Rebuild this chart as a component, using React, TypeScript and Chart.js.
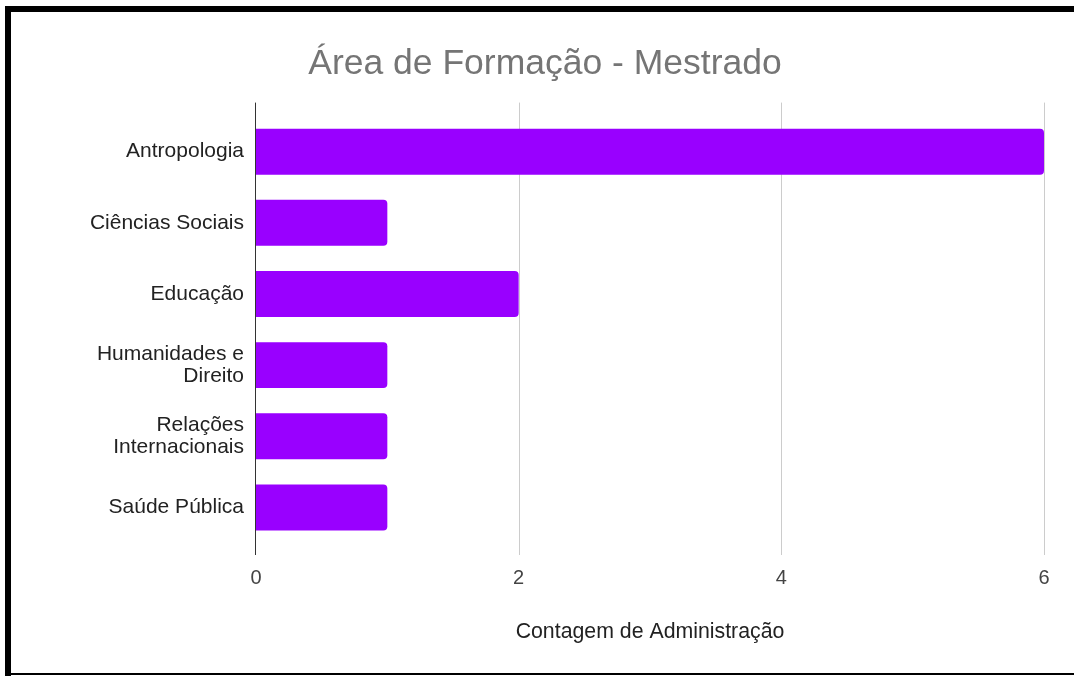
import React, { useEffect, useRef } from "react";
import { Chart, registerables } from "chart.js";

Chart.register(...registerables);

const titleText = "Área de Formação - Mestrado";
const xAxisTitle = "Contagem de Administração";
const categories: (string | string[])[] = [
  "Antropologia",
  "Ciências Sociais",
  "Educação",
  ["Humanidades e", "Direito"],
  ["Relações", "Internacionais"],
  "Saúde Pública",
];
const counts = [6, 1, 2, 1, 1, 1];
const xTicks = [0, 2, 4, 6];

const FONT = "'Liberation Sans', Arial, sans-serif";

const gridExtPlugin = {
  id: "gridExt",
  beforeDatasetsDraw(chart: any) {
    const { ctx, chartArea } = chart;
    const xs = chart.scales.x;
    const top = chartArea.top - 13.5;
    const bottom = chartArea.bottom + 12;
    ctx.save();
    ctx.lineWidth = 1;
    ctx.strokeStyle = "#cccccc";
    xTicks.forEach((v) => {
      if (v === 0) return;
      const px = Math.round(xs.getPixelForValue(v)) + 0.5;
      ctx.beginPath();
      ctx.moveTo(px, top);
      ctx.lineTo(px, bottom);
      ctx.stroke();
    });
    ctx.strokeStyle = "#333333";
    const p0 = Math.round(xs.getPixelForValue(0)) - 0.5;
    ctx.beginPath();
    ctx.moveTo(p0, top);
    ctx.lineTo(p0, bottom);
    ctx.stroke();
    ctx.restore();
  },
};

export default function App() {
  const ref = useRef<HTMLCanvasElement | null>(null);

  useEffect(() => {
    if (!ref.current) return;
    const chart = new Chart(ref.current, {
      type: "bar",
      data: {
        labels: categories,
        datasets: [
          {
            data: counts,
            backgroundColor: "#9900ff",
            barPercentage: 0.646,
            categoryPercentage: 1,
            borderRadius: 4,
            borderSkipped: "start",
          },
        ],
      },
      options: {
        indexAxis: "y",
        responsive: false,
        animation: false,
        layout: { padding: { left: 46, right: 30, top: 0, bottom: 0 } },
        plugins: {
          legend: { display: false },
          tooltip: { enabled: false },
          title: {
            display: true,
            text: titleText,
            color: "#757575",
            font: { family: FONT, size: 35.5, weight: "normal" },
            padding: { top: 43, bottom: 30.5 },
          },
        },
        scales: {
          x: {
            type: "linear",
            min: 0,
            max: 6,
            afterBuildTicks: (s: any) => {
              s.ticks = xTicks.map((v) => ({ value: v }));
            },
            ticks: {
              color: "#444444",
              font: { family: FONT, size: 20 },
              padding: 23,
            },
            grid: { display: false, drawTicks: false },
            border: { display: false },
            title: {
              display: true,
              text: xAxisTitle,
              color: "#222222",
              font: { family: FONT, size: 21.3 },
              padding: { top: 0, bottom: 31 },
            },
            afterFit: (s: any) => {
              s.height = 133;
            },
          },
          y: {
            type: "category",
            offset: true,
            ticks: {
              color: "#222222",
              font: { family: FONT, size: 21, lineHeight: 1.05 },
              padding: 12,
            },
            grid: { display: false, drawTicks: false },
            border: { display: false },
            afterFit: (s: any) => {
              s.width = 210;
            },
          },
        },
      },
      plugins: [gridExtPlugin],
    } as any);
    return () => chart.destroy();
  }, []);

  return (
    <div
      style={{
        position: "fixed",
        left: 0,
        top: 0,
        width: 1074,
        height: 676,
        background: "#ffffff",
        overflow: "hidden",
      }}
    >
      <canvas ref={ref} width={1074} height={676} style={{ position: "absolute", left: 0, top: 0 }} />
      <div style={{ position: "absolute", left: 5, top: 6, width: 1069, height: 6, background: "#000" }} />
      <div style={{ position: "absolute", left: 5, top: 6, width: 6, height: 670, background: "#000" }} />
      <div style={{ position: "absolute", left: 5, top: 673, width: 1069, height: 2, background: "#000" }} />
    </div>
  );
}
